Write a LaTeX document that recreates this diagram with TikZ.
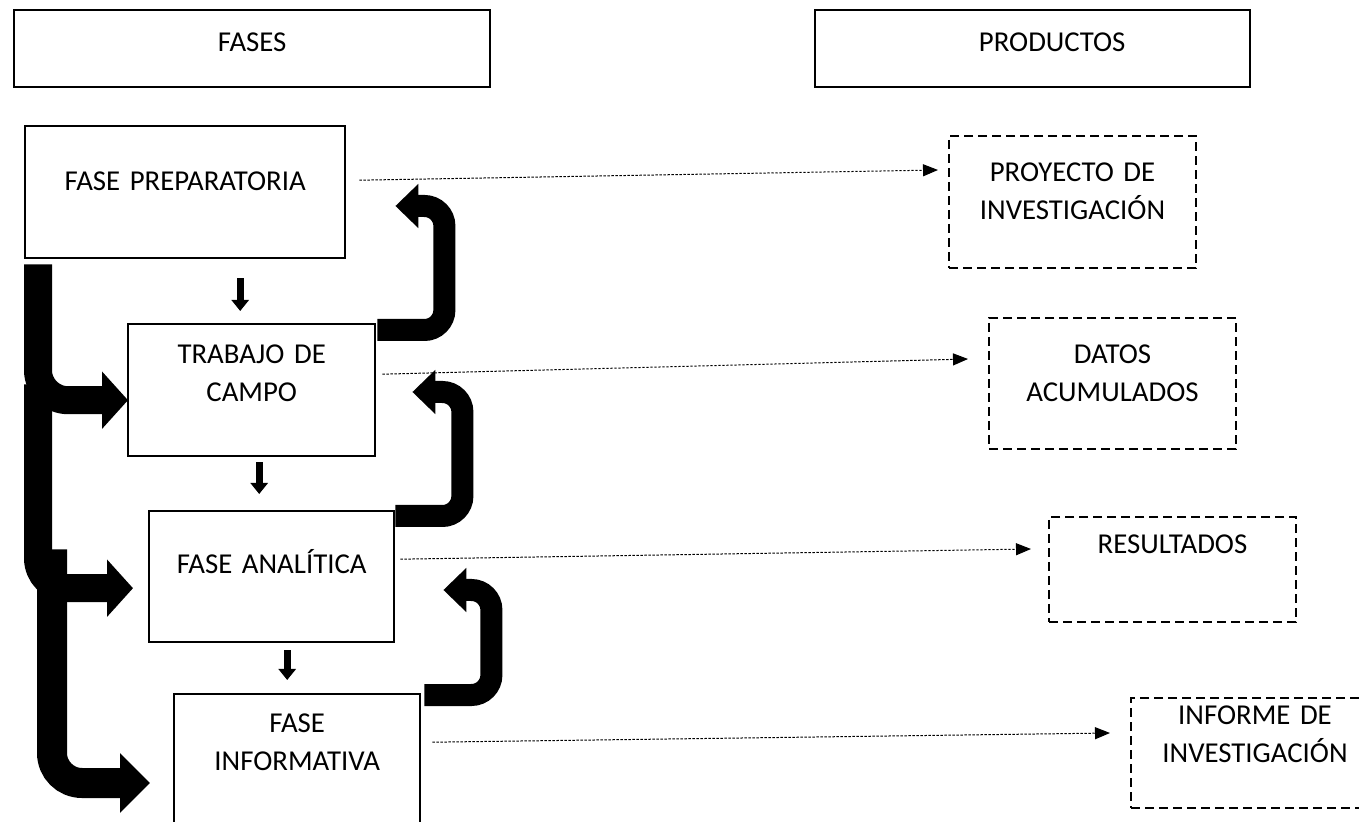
\documentclass[tikz,border=0pt]{standalone}
\usepackage{fontspec}
\setmainfont{Carlito}
\usetikzlibrary{calc}
\usetikzlibrary{arrows.meta}
\tikzset{
	caja/.style={draw, line width=1.2pt, inner sep=0pt, anchor=north west,
		execute at begin node=\centering, font=\fontsize{14.4pt}{19pt}\selectfont},
	producto/.style={caja, line width=1pt, dash pattern=on 4.5pt off 2.5pt},
	punteada/.style={line width=0.5pt, dash pattern=on 1.2pt off 0.8pt, -{Triangle[length=7.5pt,width=6pt]}},
	baja/.style={line width=3.5pt, -{Triangle[length=5.5pt,width=8.5pt]}},
	retro/.style={line width=11pt, rounded corners=10pt, -{Triangle[length=11.5pt,width=21.5pt]}},
	rama/.style={line width=14pt, rounded corners=15pt, -{Triangle[length=13pt,width=28pt]}}
}

\begin{document}
\begin{tikzpicture}[x=0.5pt, y=-0.5pt]
	\useasboundingbox (0,0) rectangle (1359,822);
	% titles
	\node[caja, text width=238pt, text height=20.5pt, text depth=18pt] (fases) at (13,9) {FASES};
	\node[caja, text width=217.5pt, text height=20.5pt, text depth=18pt] (productos) at (814,9) {\hspace*{19.5pt}PRODUCTOS};
	% phases
	\node[caja, text width=160pt, text height=32pt, text depth=34pt] (prep) at (24,125) {FASE PREPARATORIA};
	\node[caja, text width=123.5pt, text height=19.5pt, text depth=46.5pt] (trab) at (127,323) {TRABAJO DE\\CAMPO};
	\node[caja, text width=122.5pt, text height=31pt, text depth=34.5pt] (anal) at (148,510) {FASE ANALÍTICA};
	\node[caja, text width=123pt, text height=19pt, text depth=56pt] (info) at (173,693) {FASE\\INFORMATIVA};
	% products
	\node[producto, text width=123.5pt, text height=23pt, text depth=43pt] (proy) at (948,135) {PROYECTO DE\\INVESTIGACIÓN};
	\node[producto, text width=123.5pt, text height=23pt, text depth=42.5pt] (datos) at (988,317) {DATOS\\ACUMULADOS};
	\node[producto, text width=123.5pt, text height=18.5pt, text depth=34pt] (res) at (1048,516) {RESULTADOS};
	\node[producto, text width=124pt, text height=13pt, text depth=42pt] (infm) at (1130,697) {INFORME DE\\INVESTIGACIÓN};

	% phase to product
	\draw[punteada] ($(prep.east)+(13,-12)$) -- ($(proy.west)+(-10,-32)$);
	\draw[punteada] ($(trab.east)+(6,-16)$) -- ($(datos.west)+(-20,-24.5)$);
	\draw[punteada] ($(anal.east)+(5,-17.5)$) -- ($(res.west)+(-17,-20.5)$);
	\draw[punteada] ($(info.east)+(11,-27)$) -- ($(infm.west)+(-20,-20)$);

	% next phase
	\draw[baja] ($(prep.south)+(55,19)$) -- ($(trab.north)+(-11.5,-12)$);
	\draw[baja] ($(trab.south)+(7.5,5)$) -- ($(anal.north)+(-12.5,-16)$);
	\draw[baja] ($(anal.south)+(15.5,7)$) -- ($(info.north)+(-10,-13)$);

	% feedback
	\draw[retro] ($(trab.north east)+(1,7)$) -- ++(67,0) -- ++(0,-124) -- ++(-49,0);
	\draw[retro] ($(anal.north east)+(0,6)$) -- ++(67,0) -- ++(0,-124) -- ++(-50,0);
	\draw[retro] ($(info.north east)+(3,2)$) -- ++(67,0) -- ++(0,-105) -- ++(-48,0);

	% from the preparatory phase
	\draw[rama] ($(prep.south west)+(14,5)$) |- ($(trab.west)+(1,10)$);
	\draw[rama] ($(prep.south west)+(14,125)$) |- ($(anal.west)+(-15,11.5)$);
	\draw[rama, line width=15pt, -{Triangle[length=15pt,width=29pt]}] ($(prep.south west)+(28,290)$) |- ($(info.north west)+(-23,90)$);
\end{tikzpicture}
\end{document}
